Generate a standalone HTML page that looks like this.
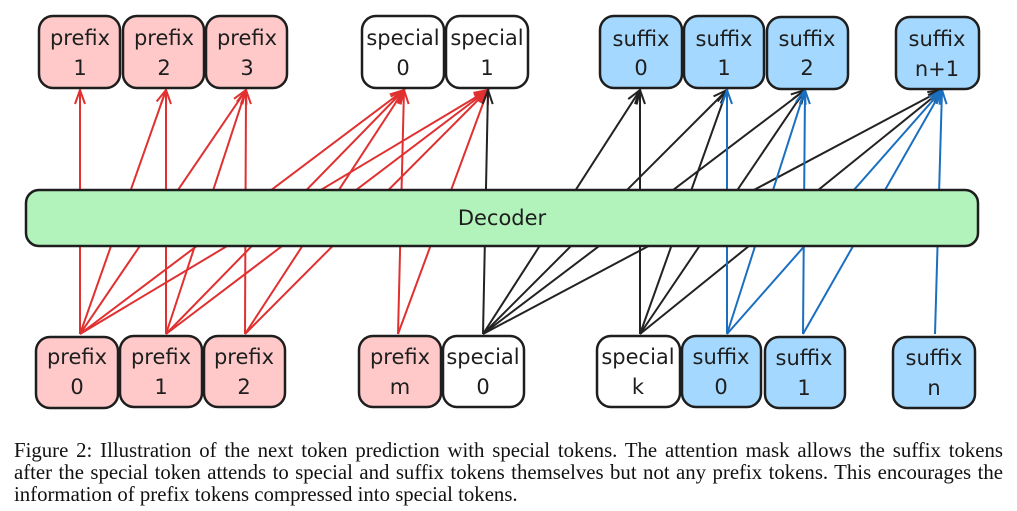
<!DOCTYPE html>
<html><head><meta charset="utf-8"><style>
body{margin:0;background:#fff;width:1017px;height:511px;overflow:hidden;position:relative}
svg{position:absolute;left:0;top:0}
.cap{position:absolute;left:14px;top:440px;width:989px;font-family:"Liberation Serif",serif;font-size:20.8px;line-height:22px;color:#111;white-space:nowrap}
.cap div.j{text-align:justify;text-align-last:justify}
</style></head><body>
<svg width="1017" height="430" viewBox="0 0 1017 430" font-family="DejaVu Sans, sans-serif">
<defs>
<marker id="r" markerUnits="userSpaceOnUse" markerWidth="30" markerHeight="30" refX="0" refY="0" viewBox="-15 -15 30 30" orient="auto"><path d="M-14,-5 L0,0 L-14,5" fill="none" stroke="#e03030" stroke-width="2"/></marker>
<marker id="k" markerUnits="userSpaceOnUse" markerWidth="30" markerHeight="30" refX="0" refY="0" viewBox="-15 -15 30 30" orient="auto"><path d="M-14,-5 L0,0 L-14,5" fill="none" stroke="#222" stroke-width="2"/></marker>
<marker id="b" markerUnits="userSpaceOnUse" markerWidth="30" markerHeight="30" refX="0" refY="0" viewBox="-15 -15 30 30" orient="auto"><path d="M-14,-5 L0,0 L-14,5" fill="none" stroke="#1a6fc0" stroke-width="2"/></marker>
</defs>
<g stroke-width="2" fill="none">
<g stroke="#e03030" marker-end="url(#r)">
<line x1="80" y1="334" x2="80" y2="90"/><line x1="80" y1="334" x2="166" y2="90"/><line x1="80" y1="334" x2="246" y2="90"/><line x1="80" y1="334" x2="404" y2="90"/><line x1="80" y1="334" x2="488" y2="90"/>
<line x1="166" y1="334" x2="166" y2="90"/><line x1="166" y1="334" x2="246" y2="90"/><line x1="166" y1="334" x2="404" y2="90"/><line x1="166" y1="334" x2="488" y2="90"/>
<line x1="245" y1="334" x2="246" y2="90"/><line x1="245" y1="334" x2="404" y2="90"/><line x1="245" y1="334" x2="488" y2="90"/>
<line x1="398" y1="334" x2="404" y2="90"/><line x1="398" y1="334" x2="488" y2="90"/>
</g>
<g stroke="#222" marker-end="url(#k)">
<line x1="483" y1="334" x2="488" y2="90"/><line x1="483" y1="334" x2="640" y2="90"/><line x1="483" y1="334" x2="727" y2="90"/><line x1="483" y1="334" x2="805" y2="90"/><line x1="483" y1="334" x2="942" y2="90"/>
<line x1="640" y1="334" x2="640" y2="90"/><line x1="640" y1="334" x2="727" y2="90"/><line x1="640" y1="334" x2="805" y2="90"/><line x1="640" y1="334" x2="942" y2="90"/>
</g>
<g stroke="#1a6fc0" marker-end="url(#b)">
<line x1="727" y1="334" x2="727" y2="90"/><line x1="727" y1="334" x2="805" y2="90"/><line x1="727" y1="334" x2="942" y2="90"/>
<line x1="803" y1="334" x2="805" y2="90"/><line x1="803" y1="334" x2="942" y2="90"/>
<line x1="935" y1="334" x2="942" y2="90"/>
</g>
</g>
<rect x="26" y="190" width="952" height="56" rx="13" fill="#b2f2bb" stroke="#1e1e1e" stroke-width="2.5"/>
<text x="502" y="225" font-size="21" text-anchor="middle" fill="#1e1e1e">Decoder</text>
<g stroke="#1e1e1e" stroke-width="2.5" font-size="20" text-anchor="middle">
<g fill="#ffc9c9"><rect x="39" y="16" width="81" height="72" rx="14"/><rect x="123" y="16" width="81" height="72" rx="14"/><rect x="206" y="16" width="81" height="72" rx="14"/>
<rect x="36" y="337" width="82" height="71" rx="14"/><rect x="120" y="336" width="82" height="71" rx="14"/><rect x="204" y="336" width="81" height="71" rx="14"/><rect x="359" y="336" width="82" height="71" rx="14"/></g>
<g fill="#fff"><rect x="362" y="16" width="82" height="72" rx="14"/><rect x="446" y="16" width="82" height="72" rx="14"/>
<rect x="443" y="336" width="81" height="71" rx="14"/><rect x="597" y="336" width="83" height="71" rx="14"/></g>
<g fill="#a5d8ff"><rect x="600" y="16" width="82" height="72" rx="14"/><rect x="684" y="16" width="80" height="72" rx="14"/><rect x="767" y="17" width="81" height="72" rx="14"/><rect x="896" y="17" width="83" height="72" rx="14"/>
<rect x="682" y="336" width="79" height="71" rx="14"/><rect x="765" y="337" width="80" height="71" rx="14"/><rect x="893" y="337" width="82" height="71" rx="14"/></g>
</g>
<g font-size="21" text-anchor="middle" fill="#1e1e1e">
<text x="80" y="45">prefix</text><text x="80" y="75">1</text>
<text x="164" y="45">prefix</text><text x="164" y="75">2</text>
<text x="247" y="45">prefix</text><text x="247" y="75">3</text>
<text x="403" y="45">special</text><text x="403" y="75">0</text>
<text x="487" y="45">special</text><text x="487" y="75">1</text>
<text x="641" y="46">suffix</text><text x="641" y="75">0</text>
<text x="724" y="46">suffix</text><text x="724" y="75">1</text>
<text x="807" y="46">suffix</text><text x="807" y="75">2</text>
<text x="937" y="46">suffix</text><text x="937" y="76">n+1</text>
<text x="77" y="364">prefix</text><text x="77" y="394">0</text>
<text x="161" y="364">prefix</text><text x="161" y="394">1</text>
<text x="244" y="364">prefix</text><text x="244" y="394">2</text>
<text x="400" y="364">prefix</text><text x="400" y="394">m</text>
<text x="483" y="364">special</text><text x="483" y="394">0</text>
<text x="638" y="364">special</text><text x="638" y="394">k</text>
<text x="721" y="364">suffix</text><text x="721" y="394">0</text>
<text x="804" y="365">suffix</text><text x="804" y="395">1</text>
<text x="934" y="365">suffix</text><text x="934" y="395">n</text>
</g>
</svg>
<div class="cap">
<div class="j">Figure 2: Illustration of the next token prediction with special tokens. The attention mask allows the suffix tokens</div>
<div class="j">after the special token attends to special and suffix tokens themselves but not any prefix tokens. This encourages the</div>
<div>information of prefix tokens compressed into special tokens.</div>
</div>
</body></html>
